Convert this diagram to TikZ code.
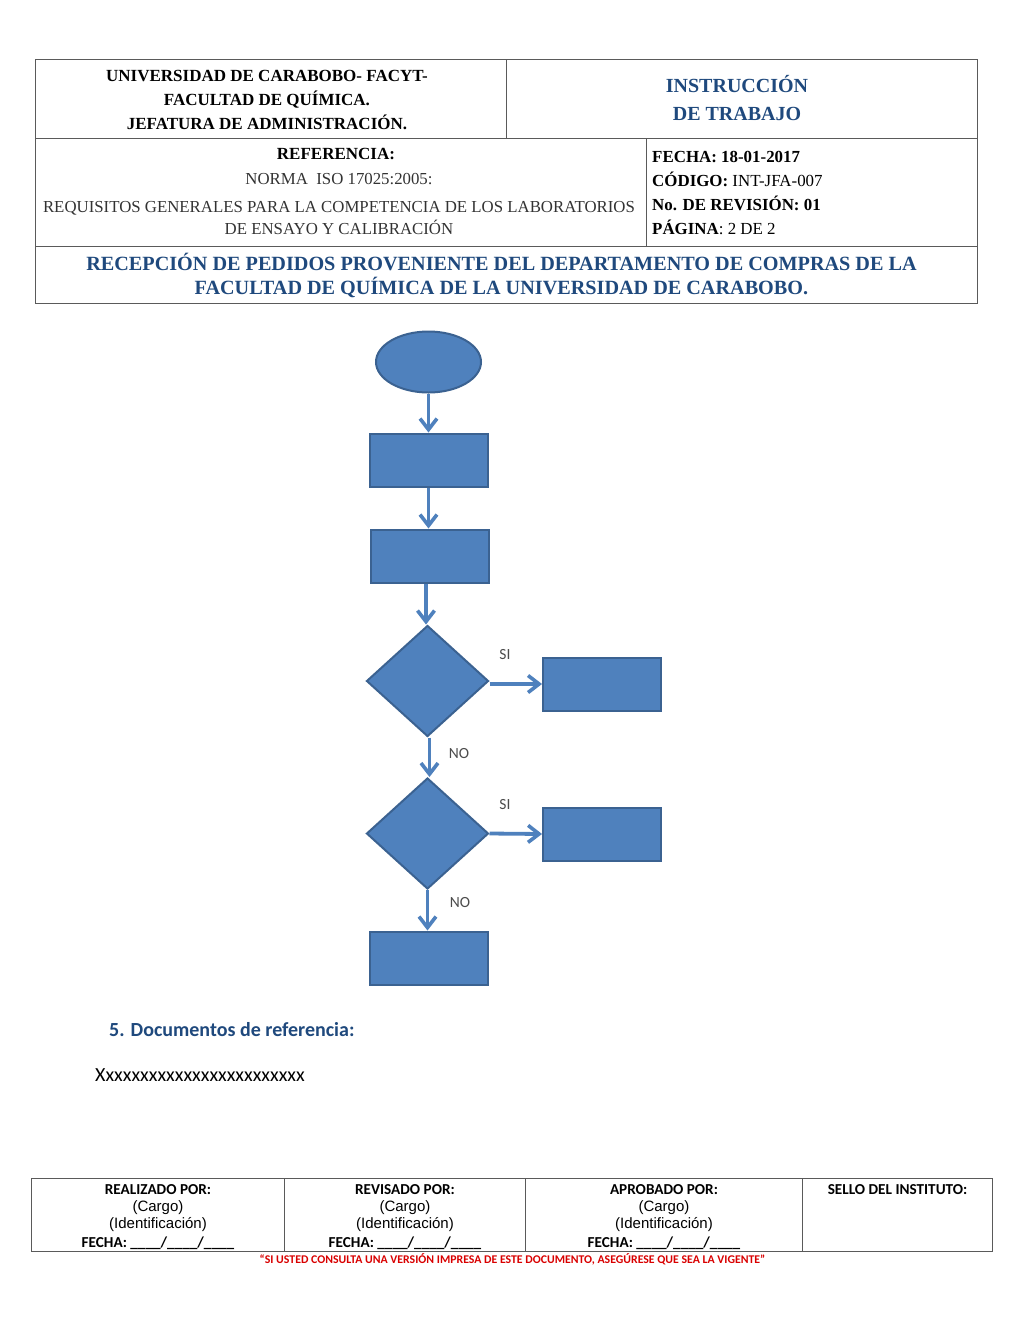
\documentclass[tikz,border=0pt]{standalone}
\usepackage{fontspec}
\setmainfont{Liberation Serif}
\newfontfamily\calibrifont{Carlito}
\newfontfamily\arialfont{Liberation Sans}
\usetikzlibrary{shapes.geometric,positioning,arrows.meta}
\definecolor{flowblue}{HTML}{4F81BD}
\definecolor{flowedge}{HTML}{3B6291}
\definecolor{titleblue}{HTML}{1F497D}
\definecolor{tablegray}{HTML}{5A5A5A}
\tikzset{
  cell/.style={draw=tablegray, line width=1pt, inner sep=0pt, outer sep=0pt},
  boxtext/.style={inner sep=0pt, align=center, font=\bfseries\fontsize{17}{24}\selectfont},
  bluetext/.style={inner sep=0pt, align=center, text=titleblue, font=\bfseries\fontsize{20.2}{24}\selectfont},
  metatext/.style={inner sep=0pt, anchor=base west, font=\fontsize{16.9}{24}\selectfont},
  normtext/.style={inner sep=0pt, align=center, text=black!80, font=\fontsize{16.8}{22}\selectfont},
  flowbox/.style={draw=flowedge, fill=flowblue, line width=2pt, minimum width=118pt, minimum height=53pt, inner sep=0pt},
  flowdiamond/.style={diamond, draw=flowedge, fill=flowblue, line width=2pt, minimum width=122pt, minimum height=111pt, inner sep=0pt, aspect=1.1},
  flowarrow/.style={draw=flowblue, line width=3.8pt, -{Straight Barb[length=11pt,width=17pt,line width=3.6pt]}},
  flowlabel/.style={inner sep=0pt, text=black!70, font=\calibrifont\fontsize{15.5}{16}\selectfont},
  signhead/.style={inner sep=0pt, font=\calibrifont\bfseries\fontsize{15.2}{16}\selectfont},
  signtext/.style={inner sep=0pt, font=\arialfont\fontsize{15}{16}\selectfont}
}
\newcommand{\signdate}{FECHA: \_\_\_\_/\_\_\_\_/\_\_\_\_}
\begin{document}
\begin{tikzpicture}[x=1pt, y=-1pt]
  \useasboundingbox (0,0) rectangle (1024,1326);
  \fill[white] (0,0) rectangle (1024,1326);

  % header table
  \node (uni) [cell, minimum width=470.5pt, minimum height=79pt] at (270.75,98.8) {};
  \node (instr) [cell, minimum width=471.5pt, minimum height=79pt] at (741.75,98.8) {};
  \node (ref) [cell, minimum width=611.2pt, minimum height=108.4pt] at (341.1,192.5) {};
  \node (meta) [cell, minimum width=330.8pt, minimum height=108.4pt] at (812.1,192.5) {};
  \node (proc) [cell, minimum width=942pt, minimum height=56.6pt] at (506.5,275) {};

  \node (unitext) [boxtext] at (267,100) {UNIVERSIDAD DE CARABOBO- FACYT-\\FACULTAD DE QUÍMICA.\\JEFATURA DE ADMINISTRACIÓN.};
  \node (instrtext) [bluetext, font=\bfseries\fontsize{20}{28}\selectfont] at (737,98) {INSTRUCCIÓN\\DE TRABAJO};
  \node (reftitle) [boxtext] at (336,153.5) {REFERENCIA:};
  \node (norm) [normtext] at (339,179) {NORMA\ \ ISO 17025:2005:};
  \node (req) [normtext] at (339,218) {REQUISITOS GENERALES PARA LA COMPETENCIA DE LOS LABORATORIOS\\DE ENSAYO Y CALIBRACIÓN};
  \node (fecha) [metatext] at (652,162) {\textbf{FECHA: 18-01-2017}};
  \node (codigo) [metatext] at (652,186) {\textbf{CÓDIGO:} INT-JFA-007};
  \node (revision) [metatext] at (652,210) {\textbf{No. DE REVISIÓN: 01}};
  \node (pagina) [metatext] at (652,234) {\textbf{PÁGINA}: 2 DE 2};
  \node (proctext) [bluetext] at (501.5,275) {RECEPCIÓN DE PEDIDOS PROVENIENTE DEL DEPARTAMENTO DE COMPRAS DE LA\\FACULTAD DE QUÍMICA DE LA UNIVERSIDAD DE CARABOBO.};

  % flow
  \node (start) [ellipse, draw=flowedge, fill=flowblue, line width=2pt, minimum width=105pt, minimum height=61pt, inner sep=0pt] at (428.5,362) {};
  \node (box1) [flowbox] at (428.5,460) {};
  \node (box2) [flowbox] at (430,556) {};
  \node (dec1) [flowdiamond] at (427.5,681) {};
  \node (box3) [flowbox] at (602,684) {};
  \node (dec2) [flowdiamond] at (427.5,833.5) {};
  \node (box4) [flowbox] at (602,834) {};
  \node (box5) [flowbox] at (428.5,958) {};

  \draw [flowarrow] (start.south) -- (box1.north);
  \draw [flowarrow] (box1.south) -- (box2.north -| box1.south);
  \draw [flowarrow] ([xshift=-1.5pt]box2.south -| dec1.north) -- ([xshift=-1.5pt]dec1.north);
  \draw [flowarrow] (box3.west -| dec1.east) -- (box3.west);
  \draw [flowarrow] ([xshift=2pt]dec1.south) -- ([xshift=2pt]dec2.north);
  \draw [flowarrow] (dec2.east) -- (box4.west);
  \draw [flowarrow] (dec2.south) -- (box5.north -| dec2.south);

  \node (si1) [flowlabel] at (505,655) {SI};
  \node (no1) [flowlabel] at (459,753.5) {NO};
  \node (si2) [flowlabel] at (505,804.5) {SI};
  \node (no2) [flowlabel] at (460,903) {NO};

  % section
  \node (sect) [inner sep=0pt, anchor=west, text=titleblue, font=\calibrifont\bfseries\fontsize{20}{22}\selectfont] at (109,1030) {5. Documentos de referencia:};
  \node (filler) [inner sep=0pt, anchor=west, font=\calibrifont\fontsize{20}{22}\selectfont] at (95,1075) {Xxxxxxxxxxxxxxxxxxxxxxxx};

  % signature table
  \node (made) [cell, minimum width=252.6pt, minimum height=72.5pt] at (158,1214.8) {};
  \node (rev) [cell, minimum width=241.4pt, minimum height=72.5pt] at (405,1214.8) {};
  \node (appr) [cell, minimum width=277pt, minimum height=72.5pt] at (664.2,1214.8) {};
  \node (seal) [cell, minimum width=189.6pt, minimum height=72.5pt] at (897.5,1214.8) {};

  \foreach \col/\cx/\who in {a/158/REALIZADO POR:, b/405/REVISADO POR:, c/664/APROBADO POR:} {
    \node (head\col) [signhead] at (\cx,1189.5) {\who};
    \node (cargo\col) [signtext] at (\cx,1208) {(Cargo)};
    \node (ident\col) [signtext] at (\cx,1225) {(Identificación)};
    \node (date\col) [signhead] at (\cx,1243) {\signdate};
  }
  \node (sealhead) [signhead] at (897.5,1189.5) {SELLO DEL INSTITUTO:};
  \node (warn) [inner sep=0pt, text=red!85!black, font=\calibrifont\bfseries\fontsize{11.8}{13}\selectfont] at (512.5,1259) {“SI USTED CONSULTA UNA VERSIÓN IMPRESA DE ESTE DOCUMENTO, ASEGÚRESE QUE SEA LA VIGENTE”};
\end{tikzpicture}
\end{document}
